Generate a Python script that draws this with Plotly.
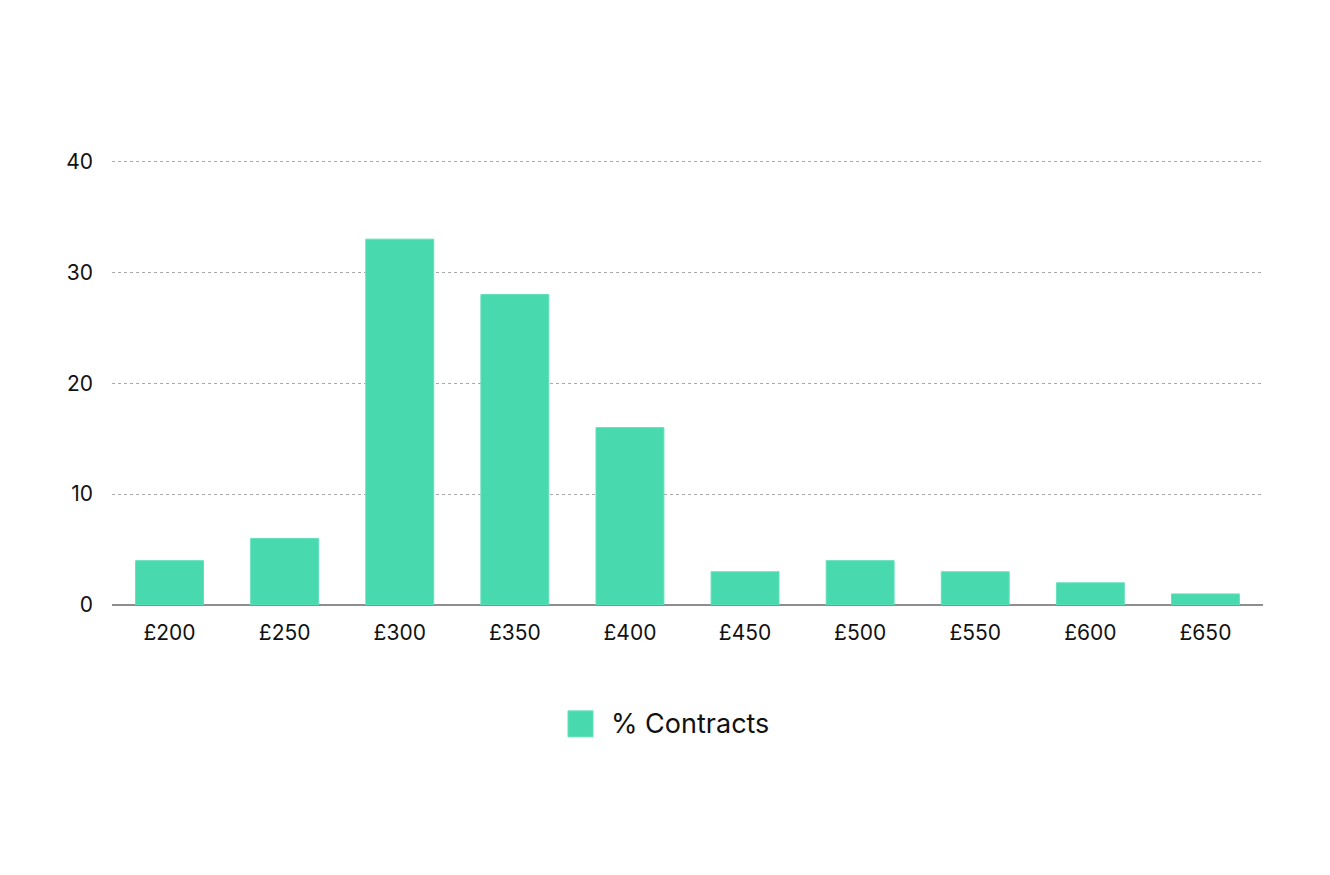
import plotly.graph_objects as go

categories = ["£200", "£250", "£300", "£350", "£400", "£450", "£500", "£550", "£600", "£650"]
contracts = [4, 6, 33, 28, 16, 3, 4, 3, 2, 1]
series_name = "% Contracts"
y_ticks = [0, 10, 20, 30, 40]

bar_color = "#48D9AE"

fig = go.Figure()
fig.add_trace(go.Bar(
    x=categories, y=contracts, name=series_name,
    marker=dict(color=bar_color, line=dict(color="#62E0BB", width=1)),
    showlegend=False,
))

# custom legend (larger swatch than plotly's legend allows)
fig.add_shape(type="rect", xref="paper", yref="paper",
              x0=0.3962, x1=0.4179, y0=-0.2937, y1=-0.2358,
              fillcolor=bar_color, line=dict(color="#62E0BB", width=1))
fig.add_annotation(text=series_name, xref="paper", yref="paper",
                   x=0.4318, y=-0.2647, xanchor="left", yanchor="middle",
                   showarrow=False, font=dict(size=27, color="#111111"))

fig.update_layout(
    width=1330, height=875,
    margin=dict(l=104, r=75, t=147.5, b=278, autoexpand=False),
    paper_bgcolor="white", plot_bgcolor="white",
    font=dict(family="Inter, Roboto, sans-serif", size=21, color="#111111"),
    bargap=0.41,
    showlegend=False,
    xaxis=dict(showgrid=False, ticks="", tickfont=dict(size=21), showline=False,
               automargin=False, ticklabelstandoff=13),
    yaxis=dict(range=[0, 40.5], tickvals=y_ticks, showgrid=True, gridcolor="#AAAAAA",
               griddash="dot", gridwidth=1, zeroline=True, zerolinecolor="#8E8E8E",
               zerolinewidth=1.5, ticks="", ticklabelstandoff=18, tickfont=dict(size=21),
               automargin=False),
)

fig.write_html("out.html")
